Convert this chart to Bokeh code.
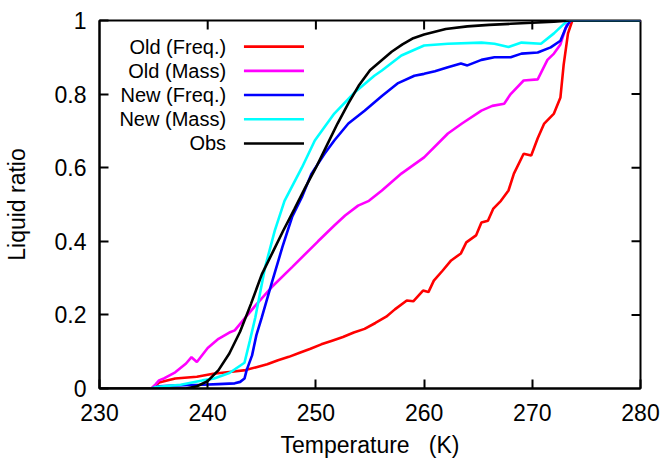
from bokeh.plotting import figure
from bokeh.models import Range1d, FixedTicker
from bokeh.core.properties import value
from bokeh.embed import file_html
from bokeh.resources import INLINE

# ---------------- data ----------------
t_old_freq = [234.8, 235.5, 237.0, 239.0, 240.5, 242.0, 243.5, 244.5, 245.5, 246.5,
              247.5, 248.5, 249.5, 250.5, 251.5, 252.5, 253.5, 254.5, 255.5, 256.5,
              257.3, 258.4, 259.0, 259.9, 260.4, 260.9, 261.7, 262.5, 263.4, 263.9,
              264.8, 265.3, 265.9, 266.4, 267.1, 267.8, 268.3, 269.2, 269.9, 270.5,
              271.1, 272.0, 272.6, 272.9, 273.3, 273.7, 280.0]
y_old_freq = [0.0, 0.016, 0.027, 0.032, 0.04, 0.045, 0.05, 0.058, 0.066, 0.077,
              0.086, 0.097, 0.108, 0.12, 0.13, 0.14, 0.152, 0.162, 0.178, 0.195,
              0.215, 0.239, 0.237, 0.266, 0.262, 0.293, 0.32, 0.348, 0.367, 0.397,
              0.416, 0.451, 0.456, 0.489, 0.51, 0.538, 0.584, 0.638, 0.633, 0.68,
              0.72, 0.747, 0.791, 0.88, 0.965, 1.0, 1.0]

t_old_mass = [234.8, 235.2, 235.5, 236.0, 237.0, 238.0, 238.5, 239.0, 240.0, 241.0,
              242.0, 242.5, 243.4, 244.4, 245.9, 247.8, 250.2, 251.7, 252.7, 253.9,
              254.9, 256.1, 257.9, 260.0, 262.2, 263.5, 265.3, 266.3, 267.4, 268.0,
              269.2, 270.5, 271.4, 272.0, 272.6, 273.2, 273.6, 280.0]
y_old_mass = [0.0, 0.012, 0.022, 0.028, 0.044, 0.068, 0.085, 0.072, 0.11, 0.135,
              0.152, 0.158, 0.19, 0.225, 0.275, 0.33, 0.40, 0.443, 0.47, 0.497,
              0.51, 0.538, 0.584, 0.628, 0.693, 0.72, 0.755, 0.768, 0.774, 0.80,
              0.837, 0.84, 0.893, 0.91, 0.935, 0.99, 1.0, 1.0]

t_new_freq = [234.8, 235.5, 237.0, 239.5, 241.0, 242.5, 243.0, 243.4, 243.6, 244.1,
              244.5, 245.0, 245.9, 246.9, 247.8, 248.7, 249.6, 250.8, 251.7, 253.0,
              254.5, 256.1, 257.6, 259.1, 260.0, 261.0, 262.2, 263.4, 264.0, 265.3,
              266.5, 268.0, 269.0, 270.5, 271.7, 272.6, 273.1, 273.5, 280.0]
y_new_freq = [0.0, 0.006, 0.008, 0.01, 0.012, 0.014, 0.018, 0.027, 0.05, 0.09,
              0.145, 0.193, 0.285, 0.384, 0.466, 0.52, 0.584, 0.638, 0.674, 0.72,
              0.755, 0.795, 0.83, 0.85, 0.855, 0.862, 0.873, 0.883, 0.878, 0.893,
              0.9, 0.9, 0.91, 0.913, 0.927, 0.945, 0.98, 1.0, 1.0]

t_new_mass = [234.8, 235.2, 237.5, 239.5, 240.6, 242.0, 243.4, 243.9, 244.4, 245.3,
              246.2, 247.1, 248.7, 249.9, 251.7, 253.6, 255.4, 256.1, 257.9, 260.0,
              262.2, 265.3, 266.5, 267.8, 269.0, 270.8, 272.0, 272.9, 273.3, 280.0]
y_new_mass = [0.0, 0.004, 0.01, 0.022, 0.027, 0.042, 0.07, 0.13, 0.193, 0.329,
              0.429, 0.51, 0.60, 0.674, 0.747, 0.805, 0.85, 0.864, 0.905, 0.932,
              0.937, 0.94, 0.937, 0.928, 0.94, 0.937, 0.965, 0.99, 1.0, 1.0]

t_obs = [230.0, 238.0, 239.0, 240.0, 241.0, 242.0, 243.0, 244.0, 245.0, 246.0,
         247.0, 248.0, 249.0, 250.0, 251.0, 252.0, 253.0, 254.0, 255.0, 256.0,
         257.0, 258.0, 259.0, 260.0, 262.0, 264.0, 266.0, 268.0, 270.0, 272.0,
         273.5, 280.0]
y_obs = [0.0, 0.0, 0.006, 0.02, 0.05, 0.095, 0.155, 0.23, 0.31, 0.37,
         0.43, 0.487, 0.545, 0.60, 0.66, 0.72, 0.775, 0.825, 0.865, 0.89,
         0.915, 0.935, 0.952, 0.962, 0.977, 0.984, 0.988, 0.991, 0.994, 0.997,
         1.0, 1.0]

series_names = ["Old (Freq.)", "Old (Mass)", "New (Freq.)", "New (Mass)", "Obs"]
series_colors = ["#ff0000", "#ff00ff", "#0000ff", "#00ffff", "#000000"]

x_ticks = [230, 240, 250, 260, 270, 280]
y_ticks = [0, 0.2, 0.4, 0.6, 0.8, 1]
y_tick_labels = ["0", "0.2", "0.4", "0.6", "0.8", "1"]

FONT = "Liberation Sans"

# ---------------- figure ----------------
W, H = 664, 460
BL, BR, BT, BB = 97, 24, 20, 72
X0, X1, Y0, Y1 = 230, 280, 0, 1

p = figure(width=W, height=H,
           x_range=Range1d(X0, X1), y_range=Range1d(Y0, Y1),
           output_backend="svg", toolbar_location=None,
           min_border_left=BL, min_border_right=BR,
           min_border_top=BT, min_border_bottom=BB)
p.xgrid.visible = False
p.ygrid.visible = False
p.outline_line_color = "black"
p.outline_line_width = 2
p.background_fill_color = "white"
p.border_fill_color = "white"

p.xaxis.ticker = FixedTicker(ticks=x_ticks)
p.yaxis.ticker = FixedTicker(ticks=y_ticks)
p.yaxis.major_label_overrides = {float(t): s for t, s in zip(y_ticks, y_tick_labels)}

TICK = 9
for ax in p.axis:
    ax.major_tick_in = TICK
    ax.major_tick_out = 0
    ax.minor_tick_in = 0
    ax.minor_tick_out = 0
    ax.major_tick_line_width = 2
    ax.major_tick_line_color = "black"
    ax.axis_line_width = 2
    ax.axis_line_color = "black"
    ax.major_label_text_font = FONT
    ax.major_label_text_font_size = "23px"
    ax.major_label_text_color = "black"
    ax.axis_label_text_font = FONT
    ax.axis_label_text_font_size = "23px"
    ax.axis_label_text_font_style = "normal"
    ax.axis_label_text_color = "black"

p.xaxis.axis_label = "Temperature\u00a0\u00a0\u00a0(K)"
p.xaxis.major_label_standoff = 15
p.xaxis.axis_label_standoff = 8
p.yaxis.axis_label = "Liquid ratio"
p.yaxis.major_label_standoff = 13
p.yaxis.axis_label_standoff = 22

# mirrored inward ticks on top and right edges (from tick arrays)
fw, fh = W - BL - BR, H - BT - BB
dx = TICK * (X1 - X0) / fw
dy = TICK * (Y1 - Y0) / fh
top_t = [t for t in x_ticks if X0 < t < X1]
right_t = [t for t in y_ticks if Y0 < t < Y1]
p.segment(x0=top_t, x1=top_t, y0=[Y1] * len(top_t), y1=[Y1 - dy] * len(top_t),
          line_color="black", line_width=2)
p.segment(x0=[X1] * len(right_t), x1=[X1 - dx] * len(right_t), y0=right_t, y1=right_t,
          line_color="black", line_width=2)

# ---------------- curves ----------------
ts = [t_old_freq, t_old_mass, t_new_freq, t_new_mass, t_obs]
ys = [y_old_freq, y_old_mass, y_new_freq, y_new_mass, y_obs]
for t, y, c in zip(ts, ys, series_colors):
    p.line(t, y, line_color=c, line_width=2.6)

# ---------------- legend (text left, sample right) ----------------
leg_top = 0.929
leg_step = 0.0658
leg_rows = [leg_top - i * leg_step for i in range(len(series_names))]
n = len(series_names)
p.text(x=[241.7] * n, y=leg_rows, text=series_names,
       text_align="right", text_baseline="middle",
       text_font=value(FONT), text_font_size="20px", text_color="black")
p.segment(x0=[243.35] * n, x1=[248.9] * n,
          y0=leg_rows, y1=leg_rows, line_color=series_colors, line_width=2.6)

open("out.html", "w").write(file_html(p, INLINE))
